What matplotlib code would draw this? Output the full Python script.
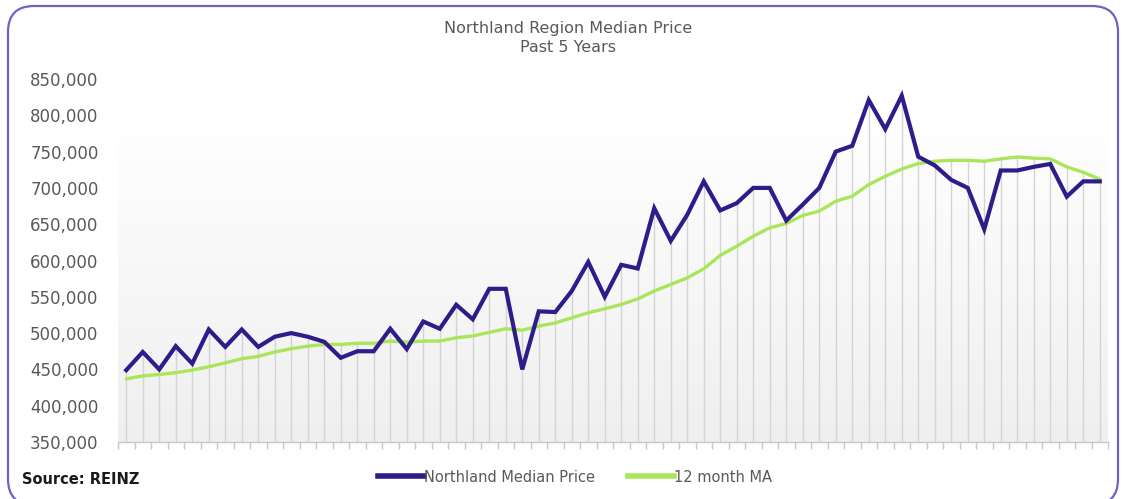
import numpy as np
import matplotlib
matplotlib.use("Agg")
import matplotlib.pyplot as plt
from matplotlib.patches import FancyBboxPatch
from matplotlib.lines import Line2D
from matplotlib.ticker import FuncFormatter

# monthly values, past 5 years (60 months)
median_price = [
    449000, 474000, 450000, 482000, 458000, 505000, 481000, 505000, 481000, 495000,
    500000, 495000, 488000, 466000, 475000, 475000, 506000, 478000, 516000, 506000,
    539000, 519000, 561000, 561000, 450000, 530000, 529000, 558000, 598000, 550000,
    594000, 589000, 672000, 627000, 663000, 709000, 669000, 679000, 700000, 700000,
    655000, 677000, 700000, 750000, 758000, 821000, 781000, 827000, 743000, 731000,
    711000, 700000, 643000, 724000, 724000, 729000, 733000, 688000, 709000, 709000,
]
moving_avg = [
    437000, 441000, 443000, 445500, 449000, 453700, 459000, 464700, 468000, 474000,
    478500, 482000, 484400, 484400, 486000, 486000, 489000, 487500, 489000, 489000,
    493600, 496000, 501000, 506000, 504000, 509600, 514000, 521000, 528000, 533500,
    539500, 547000, 558000, 567000, 576000, 588600, 607000, 619700, 633500, 645000,
    651000, 662000, 668000, 681600, 688500, 704600, 716000, 726000, 733500, 736700,
    738000, 738000, 736700, 740000, 742600, 741000, 740000, 729000, 721500, 712000,
]
series_names = ["Northland Median Price", "12 month MA"]
title_lines = ["Northland Region Median Price", "Past 5 Years"]
source_text = "Source: REINZ"

purple = "#2e1c8a"
green = "#a9e65a"
text_grey = "#595959"

fig = plt.figure(figsize=(11.22, 4.99), dpi=100)

# rounded frame round the whole chart, in pixels (bottom corners just clipped)
frame = FancyBboxPatch((8, -6), 1110, 499,
                       boxstyle="round,pad=0,rounding_size=26",
                       transform=None, fill=False,
                       edgecolor="#6f63c0", linewidth=1.6)
fig.patches.append(frame)

ax = fig.add_axes([118 / 1122, 1 - 442 / 499, (1108 - 118) / 1122, (442 - 79) / 499])
n = len(median_price)
x = np.arange(n)
ax.set_xlim(-0.5, n - 0.5)
ax.set_ylim(350000, 850000)

# soft grey gradient in the plot area
grad = np.linspace(0, 1, 256).reshape(-1, 1)
ax.imshow(grad, extent=(-0.5, n - 0.5, 350000, 790000), aspect="auto",
          cmap=matplotlib.colors.LinearSegmentedColormap.from_list("g", ["#efefef", "#ffffff"]),
          origin="lower", zorder=0)

# drop lines from the higher series to the axis
tops = np.maximum(median_price, moving_avg)
ax.vlines(x, 350000, tops, color="#d4d4d4", linewidth=1.0, zorder=1)

ax.plot(x, moving_avg, color=green, linewidth=2.4, zorder=3, solid_capstyle="round")
ax.plot(x, median_price, color=purple, linewidth=3.0, zorder=4, solid_joinstyle="miter")

for s in ["top", "right", "left"]:
    ax.spines[s].set_visible(False)
ax.spines["bottom"].set_color("#c8c8c8")
ax.spines["bottom"].set_linewidth(1.0)

ax.set_xticks(np.arange(n + 1) - 0.5)
ax.set_xticklabels([])
ax.tick_params(axis="x", direction="out", length=5, color="#c8c8c8", width=1.0)
ax.set_yticks(np.arange(350000, 850001, 50000))
ax.yaxis.set_major_formatter(FuncFormatter(lambda v, p: f"{int(v):,}"))
ax.tick_params(axis="y", length=0, pad=14, labelsize=12, labelcolor=text_grey)

fig.text(568 / 1122, 1 - 28 / 499, title_lines[0], ha="center", va="center",
         fontsize=11.5, color=text_grey)
fig.text(568 / 1122, 1 - 48 / 499, title_lines[1], ha="center", va="center",
         fontsize=11.5, color=text_grey)
fig.text(22 / 1122, 1 - 480 / 499, source_text, ha="left", va="center",
         fontsize=10.5, fontweight="bold", color="#1a1a1a")

handles = [Line2D([], [], color=purple, linewidth=4),
           Line2D([], [], color=green, linewidth=4)]
fig.legend(handles, series_names, loc="center", bbox_to_anchor=(575 / 1122, 1 - 477 / 499),
           ncol=2, frameon=False, handlelength=3.2, handletextpad=0.0, columnspacing=2.2,
           prop={"size": 10.5}, labelcolor=text_grey)

fig.savefig("out.png", dpi=100)
